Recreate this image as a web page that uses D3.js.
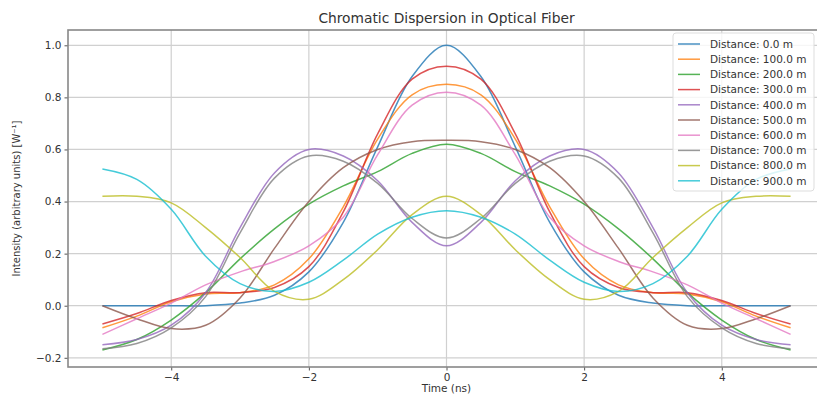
<!DOCTYPE html>
<html>
<head>
<meta charset="utf-8">
<script src="https://cdnjs.cloudflare.com/ajax/libs/d3/7.8.5/d3.min.js"></script>
<style>
body { margin: 0; background: #fff; }
text { font-family: "DejaVu Sans", sans-serif; fill: #333; }
</style>
</head>
<body>
<div id="chart"></div>
<script>
"use strict";

// sample times (ns)
var time = [-5, -4.5, -4, -3.5, -3, -2.5, -2, -1.5, -1, -0.5, 0, 0.5, 1, 1.5, 2, 2.5, 3, 3.5, 4, 4.5, 5];

var distances = ["0.0", "100.0", "200.0", "300.0", "400.0", "500.0", "600.0", "700.0", "800.0", "900.0"];

// intensity, one array per distance
var d0   = [0.0, 0.0, 0.0, 0.0, 0.01, 0.04, 0.13, 0.32, 0.61, 0.88, 1.0, 0.88, 0.61, 0.32, 0.13, 0.04, 0.01, 0.0, 0.0, 0.0, 0.0];
var d100 = [-0.085, -0.04, 0.015, 0.045, 0.05, 0.08, 0.18, 0.38, 0.64, 0.81, 0.85, 0.81, 0.64, 0.38, 0.18, 0.08, 0.05, 0.045, 0.015, -0.04, -0.085];
var d200 = [-0.17, -0.13, -0.055, 0.05, 0.18, 0.295, 0.39, 0.46, 0.515, 0.585, 0.62, 0.585, 0.515, 0.46, 0.39, 0.295, 0.18, 0.05, -0.055, -0.13, -0.17];
var d300 = [-0.07, -0.03, 0.02, 0.05, 0.05, 0.07, 0.15, 0.36, 0.66, 0.87, 0.92, 0.87, 0.66, 0.36, 0.15, 0.07, 0.05, 0.05, 0.02, -0.03, -0.07];
var d400 = [-0.15, -0.13, -0.075, 0.05, 0.30, 0.51, 0.60, 0.575, 0.48, 0.32, 0.23, 0.32, 0.48, 0.575, 0.60, 0.51, 0.30, 0.05, -0.075, -0.13, -0.15];
var d500 = [0.0, -0.05, -0.088, -0.075, 0.03, 0.22, 0.40, 0.53, 0.60, 0.63, 0.635, 0.63, 0.60, 0.53, 0.40, 0.22, 0.03, -0.075, -0.088, -0.05, 0.0];
var d600 = [-0.11, -0.05, 0.01, 0.08, 0.13, 0.17, 0.23, 0.34, 0.58, 0.77, 0.82, 0.77, 0.58, 0.34, 0.23, 0.17, 0.13, 0.08, 0.01, -0.05, -0.11];
var d700 = [-0.165, -0.145, -0.085, 0.035, 0.28, 0.49, 0.575, 0.555, 0.47, 0.335, 0.26, 0.335, 0.47, 0.555, 0.575, 0.49, 0.28, 0.035, -0.085, -0.145, -0.165];
var d800 = [0.42, 0.42, 0.395, 0.30, 0.185, 0.055, 0.025, 0.10, 0.215, 0.35, 0.42, 0.35, 0.215, 0.10, 0.025, 0.055, 0.185, 0.30, 0.395, 0.42, 0.42];
var d900 = [0.525, 0.485, 0.37, 0.19, 0.085, 0.055, 0.09, 0.175, 0.275, 0.34, 0.365, 0.34, 0.275, 0.175, 0.09, 0.055, 0.085, 0.19, 0.37, 0.485, 0.525];

var series = [d0, d100, d200, d300, d400, d500, d600, d700, d800, d900];

var xTicks = [-4, -2, 0, 2, 4];
var yTicks = [-0.2, 0.0, 0.2, 0.4, 0.6, 0.8, 1.0];

function drawChart()
{
    var w = 817;
    var h = 396;
    var left = 68, right = 825, top = 30, bottom = 367;

    var color = d3.scaleOrdinal(d3.schemeCategory10);

    var x = d3.scaleLinear().domain([-5.5, 5.5]).range([left, right]);
    var y = d3.scaleLinear().domain([-0.2354, 1.0588]).range([bottom, top]);

    var svg = d3.select("#chart")
                .append("svg")
                .attr("width", w)
                .attr("height", h);

    svg.append("defs").append("clipPath")
        .attr("id", "plotclip")
        .append("rect")
        .attr("x", left).attr("y", top)
        .attr("width", right - left).attr("height", bottom - top);

    // grid
    svg.append("g").selectAll("line.vg")
        .data(xTicks).enter().append("line")
        .attr("x1", function(d) { return x(d); })
        .attr("x2", function(d) { return x(d); })
        .attr("y1", top).attr("y2", bottom)
        .attr("stroke", "#d0d0d0").attr("stroke-width", 1.2);

    svg.append("g").selectAll("line.hg")
        .data(yTicks).enter().append("line")
        .attr("x1", left).attr("x2", right)
        .attr("y1", function(d) { return y(d); })
        .attr("y2", function(d) { return y(d); })
        .attr("stroke", "#d0d0d0").attr("stroke-width", 1.2);

    // curves
    var line = d3.line()
        .x(function(d, i) { return x(time[i]); })
        .y(function(d) { return y(d); })
        .curve(d3.curveCatmullRom.alpha(0.5));

    svg.append("g")
        .attr("clip-path", "url(#plotclip)")
        .selectAll("path")
        .data(series).enter().append("path")
        .attr("d", line)
        .attr("fill", "none")
        .attr("stroke", function(d, i) { return color(i); })
        .attr("stroke-width", 1.5)
        .attr("stroke-opacity", 0.8);

    // axes
    var xAxis = d3.axisBottom(x).tickValues(xTicks).tickSize(3.5).tickPadding(3)
        .tickFormat(function(d) { return d < 0 ? "\u2212" + Math.abs(d) : d; });
    var yAxis = d3.axisLeft(y).tickValues(yTicks).tickSize(3.5).tickPadding(3)
        .tickFormat(function(d) { return d < 0 ? "\u2212" + Math.abs(d).toFixed(1) : d.toFixed(1); });

    var gx = svg.append("g").attr("transform", "translate(0," + bottom + ")").call(xAxis);
    var gy = svg.append("g").attr("transform", "translate(" + left + ",0)").call(yAxis);
    [gx, gy].forEach(function(g) {
        g.select(".domain").remove();
        g.selectAll(".tick line").attr("stroke", "#555");
        g.selectAll(".tick text").style("font-size", "10.5px").attr("fill", "#333")
            .style("font-family", "'DejaVu Sans', sans-serif");
    });

    // spines
    svg.append("rect")
        .attr("x", left).attr("y", top)
        .attr("width", right - left).attr("height", bottom - top)
        .attr("fill", "none")
        .attr("stroke", "#888")
        .attr("stroke-width", 1.6);

    // titles
    svg.append("text")
        .text("Chromatic Dispersion in Optical Fiber")
        .attr("x", (left + right) / 2).attr("y", 23)
        .style("text-anchor", "middle")
        .style("font-size", "13.8px");

    svg.append("text")
        .text("Time (ns)")
        .attr("x", (left + right) / 2).attr("y", 392)
        .style("text-anchor", "middle")
        .style("font-size", "10.5px");

    svg.append("text")
        .text("Intensity (arbitrary units) [W\u207B\u00B9]")
        .attr("transform", "translate(20," + ((top + bottom) / 2) + ") rotate(-90)")
        .style("text-anchor", "middle")
        .style("font-size", "10px");

    // legend
    var lx = 673, ly = 33, rowH = 15.2;
    svg.append("rect")
        .attr("x", lx).attr("y", ly)
        .attr("width", 141).attr("height", 158)
        .attr("rx", 3)
        .attr("fill", "#fff").attr("fill-opacity", 0.8)
        .attr("stroke", "#ddd");

    var legend = svg.selectAll(".legend")
        .data(distances)
        .enter().append("g")
        .attr("class", "legend")
        .attr("transform", function(d, i) {
            return "translate(" + lx + "," + (ly + 11 + i * rowH) + ")";
        });

    legend.append("line")
        .attr("x1", 5).attr("x2", 27)
        .attr("stroke", function(d, i) { return color(i); })
        .attr("stroke-width", 1.5)
        .attr("stroke-opacity", 0.8);

    legend.append("text")
        .text(function(d) { return "Distance: " + d + " m"; })
        .attr("x", 37).attr("y", 3.8)
        .style("font-size", "10.5px");
}

window.addEventListener('load', function () {
    drawChart();
});
</script>
</body>
</html>
